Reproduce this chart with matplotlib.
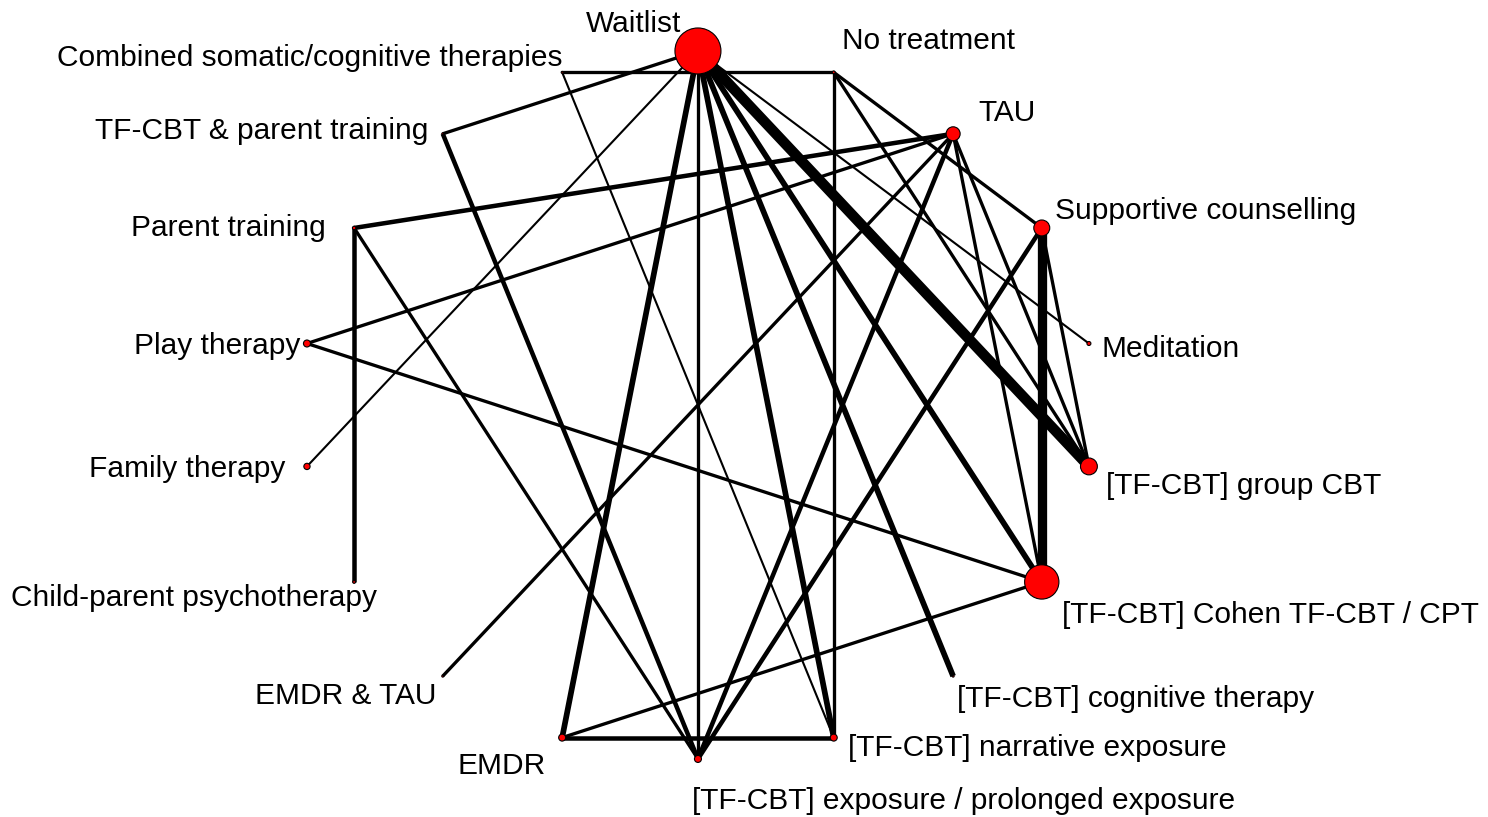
import numpy as np
import matplotlib.pyplot as plt

plt.rcParams['font.family'] = ['Liberation Sans', 'DejaVu Sans']

# Treatments, in the order they sit round the circle (clockwise from the top)
treatments = [
    "Waitlist",
    "No treatment",
    "TAU",
    "Supportive counselling",
    "Meditation",
    "[TF-CBT] group CBT",
    "[TF-CBT] Cohen TF-CBT / CPT",
    "[TF-CBT] cognitive therapy",
    "[TF-CBT] narrative exposure",
    "[TF-CBT] exposure / prolonged exposure",
    "EMDR",
    "EMDR & TAU",
    "Child-parent psychotherapy",
    "Family therapy",
    "Play therapy",
    "Parent training",
    "TF-CBT & parent training",
    "Combined somatic/cognitive therapies",
]

# Node size ~ number of participants
participants = [1080, 4, 100, 130, 8, 145, 600, 2, 25, 25, 25, 2, 4, 20, 25, 6, 2, 2]

# Direct comparisons: from, to, number of studies (line width)
edge_from = [0, 0, 0, 0, 0, 0, 0, 0, 0,
             17, 17, 1, 1, 1,
             2, 2, 2, 2, 2, 2,
             3, 3, 3,
             15, 15, 14, 16, 10, 10]
edge_to = [5, 6, 7, 8, 9, 10, 4, 13, 16,
           1, 8, 8, 3, 5,
           15, 14, 11, 9, 6, 5,
           6, 9, 5,
           12, 9, 6, 9, 8, 6]
n_studies = [8, 4, 4, 4, 2, 4, 1, 1, 2,
             2, 1, 2, 2, 2,
             3, 2, 2, 3, 2, 2,
             7, 3, 2,
             3, 2, 2, 3, 3, 2]

# Label placement (offset in pixels from the node, horizontal alignment)
label_dx = [-64, 8, 25, 13, 13, 17, 20, 4, 14, -6, -16, -6, 23, -22, -7, -28, -14, 0]
label_dy = [27, 31, 21, 17, -6, -20, -33, -23, -10, -42, -28, -20, -16, -3, -3, 0, 3, 14]
label_ha = ['center', 'left', 'left', 'left', 'left', 'left', 'left', 'left', 'left', 'left',
            'right', 'right', 'right', 'right', 'right', 'right', 'right', 'right']

# Circular layout
n = len(treatments)
ang = np.deg2rad(90 - 360.0 / n * np.arange(n))
xs = np.cos(ang)
ys = np.sin(ang)

fig = plt.figure(figsize=(14.88, 8.17), dpi=100)
ax = fig.add_axes([0, 0, 1, 1])
ax.set_xlim(-1.758, 1.990)
ax.set_ylim(-1.164, 1.144)
ax.axis('off')

# Edges
for a, b, k in zip(edge_from, edge_to, n_studies):
    lw = (1.2 * k + 0.9) * 0.72
    ax.plot([xs[a], xs[b]], [ys[a], ys[b]], color='black', lw=lw,
            solid_capstyle='butt', zorder=1)

# Nodes
radius = 0.7 * np.sqrt(participants)
ax.scatter(xs, ys, s=(2 * radius * 0.72) ** 2, c='red', edgecolors='black',
           linewidths=0.8, zorder=3)

# Labels
for i, name in enumerate(treatments):
    ax.annotate(name, (xs[i], ys[i]), xytext=(label_dx[i], label_dy[i]),
                textcoords='offset pixels', ha=label_ha[i], va='center',
                fontsize=21.5, color='black')

fig.savefig('out.png', dpi=100)
